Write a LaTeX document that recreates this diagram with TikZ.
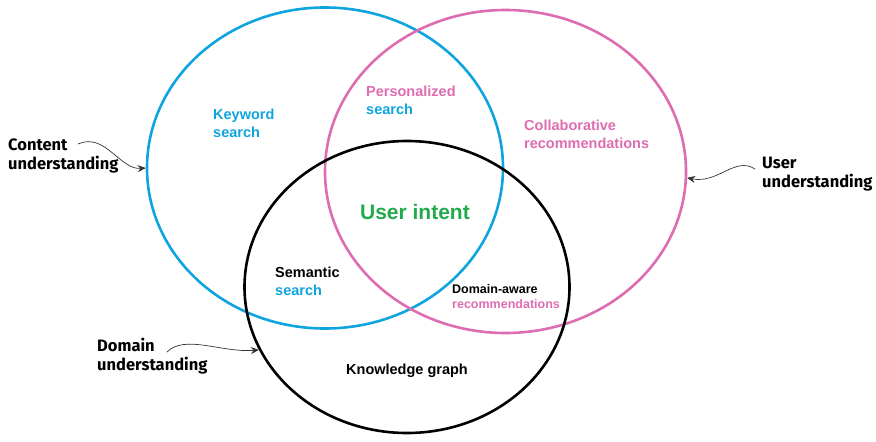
\documentclass[tikz,border=0pt]{standalone}
\usepackage{fontspec}
\setmainfont{Liberation Sans}
\newfontfamily\outerfont{Fira Sans}
\usetikzlibrary{shapes.geometric,arrows.meta}
\definecolor{cblue}{RGB}{16,164,222}
\definecolor{cpink}{RGB}{222,108,176}
\definecolor{cgreen}{RGB}{34,170,76}
\tikzset{
  venn/.style={ellipse, draw, line width=2.6pt, inner sep=0pt},
  lbl/.style={font=\bfseries\fontsize{14.5}{18}\selectfont, align=left, anchor=west, inner sep=0pt},
  small/.style={font=\bfseries\fontsize{12.5}{15}\selectfont, align=left, anchor=west, inner sep=0pt},
  outer/.style={font=\outerfont\bfseries\fontsize{16.5}{19.5}\selectfont, align=left, anchor=west, inner sep=0pt},
  pointer/.style={draw=black!80, line width=0.7pt, -{Stealth[length=8pt,width=7pt]}}
}
\begin{document}
\begin{tikzpicture}[x=1pt,y=-1pt]
\useasboundingbox (0,0) rectangle (876,442);
\node[venn, draw=cblue, minimum width=356pt, minimum height=321pt] (blue) at (325,168) {};
\node[venn, draw=cpink, minimum width=361pt, minimum height=323pt] (pink) at (505.5,171.5) {};
\node[venn, draw=black, minimum width=325pt, minimum height=292pt] (black) at (407,287) {};

\node[lbl, text=cblue] (kw) at (213,123) {Keyword\\search};
\node[lbl] (pers) at (366,100) {\textcolor{cpink}{Personalized}\\\textcolor{cblue}{search}};
\node[lbl, text=cpink] (collab) at (524,134) {Collaborative\\recommendations};
\node[font=\bfseries\fontsize{21}{24}\selectfont, text=cgreen, inner sep=0pt] (intent) at (415,212) {User intent};
\node[lbl] (sem) at (275,281) {Semantic\\\textcolor{cblue}{search}};
\node[small] (dom) at (452,297) {Domain-aware\\\textcolor{cpink}{recommendations}};
\node[font=\bfseries\fontsize{14.5}{18}\selectfont, inner sep=0pt] (kg) at (407,371) {Knowledge graph};

\node[outer] (content) at (8,156) {Content\\understanding};
\node[outer] (user) at (762,174) {User\\understanding};
\node[outer] (domain) at (97,356) {Domain\\understanding};

\coordinate (cs) at (78,144);
\coordinate (us) at (755,169);
\coordinate (ds) at (167,352);
\draw[pointer] (cs) .. controls (105,132) and (120,170) .. (blue.west);
\draw[pointer] (us) .. controls (735,156) and (718,184) .. (pink.-2);
\draw[pointer] (ds) .. controls (185,334) and (222,353) .. (black.203);
\end{tikzpicture}
\end{document}
